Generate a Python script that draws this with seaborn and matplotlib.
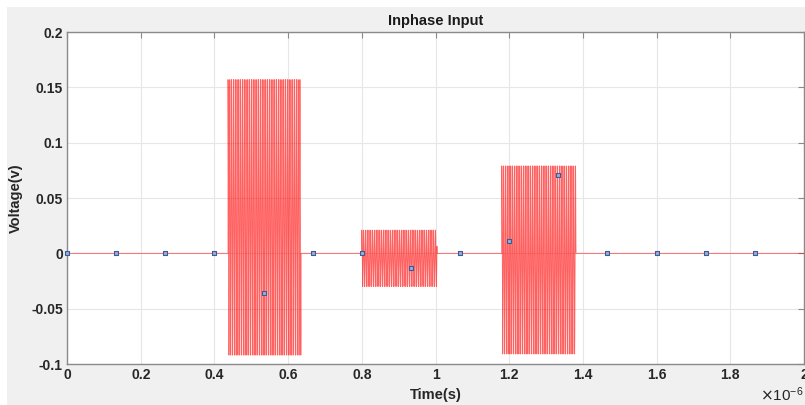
import numpy as np
import pandas as pd
import matplotlib
matplotlib.use("Agg")
import matplotlib.pyplot as plt
import seaborn as sns
from matplotlib.ticker import FuncFormatter

# Pulse bursts of the in-phase carrier (time in microseconds, volts)
burst_start = [0.437, 0.800, 1.180]
burst_end = [0.635, 1.004, 1.381]
burst_peak = [0.157, 0.021, 0.079]
burst_trough = [-0.092, -0.030, -0.091]
carrier_mhz = 205.0

# Sampled points shown as markers
sample_t = [0.0, 0.1333, 0.2667, 0.4, 0.5333, 0.6667, 0.8, 0.9333,
            1.0667, 1.2, 1.3333, 1.4667, 1.6, 1.7333, 1.8667]
sample_v = [0.0, 0.0, 0.0, 0.0, -0.036, 0.0, 0.0, -0.013,
            0.0, 0.011, 0.071, 0.0, 0.0, 0.0, 0.0]

x_ticks = [0, 0.2, 0.4, 0.6, 0.8, 1.0, 1.2, 1.4, 1.6, 1.8, 2.0]
y_ticks = [-0.1, -0.05, 0, 0.05, 0.1, 0.15, 0.2]

# Build the waveform: zero outside bursts, carrier inside
t = np.linspace(0, 2.0, 400001)
v = np.zeros_like(t)
for s, e, hi, lo in zip(burst_start, burst_end, burst_peak, burst_trough):
    m = (t >= s) & (t <= e)
    mid = (hi + lo) / 2
    amp = (hi - lo) / 2
    v[m] = mid + amp * np.cos(2 * np.pi * carrier_mhz * (t[m] - s))
wave = pd.DataFrame({"t": t, "v": v})
samples = pd.DataFrame({"t": sample_t, "v": sample_v})

sns.set_style("white")
plt.rcParams["font.family"] = ["Liberation Sans", "DejaVu Sans"]
plt.rcParams["axes.unicode_minus"] = False

fig = plt.figure(figsize=(8.05, 4.05), dpi=100)
fig.patch.set_facecolor("white")
bg = plt.Rectangle((7 / 805, 0), 1 - 7 / 805, 1 - 7 / 405,
                   transform=fig.transFigure, facecolor="#f0f0f0",
                   edgecolor="none", zorder=-10)
fig.patches.append(bg)

ax = fig.add_axes([67 / 805, 41 / 405, 737 / 805, 332 / 405])
ax.set_facecolor("white")

sns.lineplot(data=wave, x="t", y="v", ax=ax, color="#ff0000", lw=0.6,
             alpha=0.62, estimator=None, sort=False, zorder=2)
sns.scatterplot(data=samples, x="t", y="v", ax=ax, marker="s", s=12,
                facecolor="#9aaed0", edgecolor="#3d5a99", linewidth=0.8,
                zorder=3, clip_on=False)

ax.set_xlim(0, 2.0)
ax.set_ylim(-0.1, 0.2)
ax.set_xticks(x_ticks)
ax.set_yticks(y_ticks)
ax.xaxis.set_major_formatter(FuncFormatter(lambda x, p: f"{x:g}"))
ax.yaxis.set_major_formatter(FuncFormatter(lambda y, p: f"{y:g}"))
ax.grid(True, color="#e6e6e6", lw=0.8)
ax.set_axisbelow(True)
for sp in ax.spines.values():
    sp.set_visible(True)
    sp.set_color("#8a8a8a")
    sp.set_linewidth(1.0)
ax.tick_params(direction="in", length=4, color="#8a8a8a", top=True,
               right=True, labelsize=10, pad=3)
for lab in ax.get_xticklabels() + ax.get_yticklabels():
    lab.set_fontweight("bold")
    lab.set_color("#262626")

ax.set_title("Inphase Input", fontsize=10.5, fontweight="bold",
             color="#1a1a1a", pad=5)
ax.set_xlabel("Time(s)", fontsize=10.5, fontweight="bold", color="#262626",
              labelpad=4)
ax.set_ylabel("Voltage(v)", fontsize=10.5, fontweight="bold", color="#262626",
              labelpad=6)
ax.text(0.999, -0.065, r"$\times\mathregular{10^{-6}}$", transform=ax.transAxes,
        ha="right", va="top", fontsize=11, color="#262626")

fig.savefig("out.png", dpi=100, facecolor=fig.get_facecolor())
